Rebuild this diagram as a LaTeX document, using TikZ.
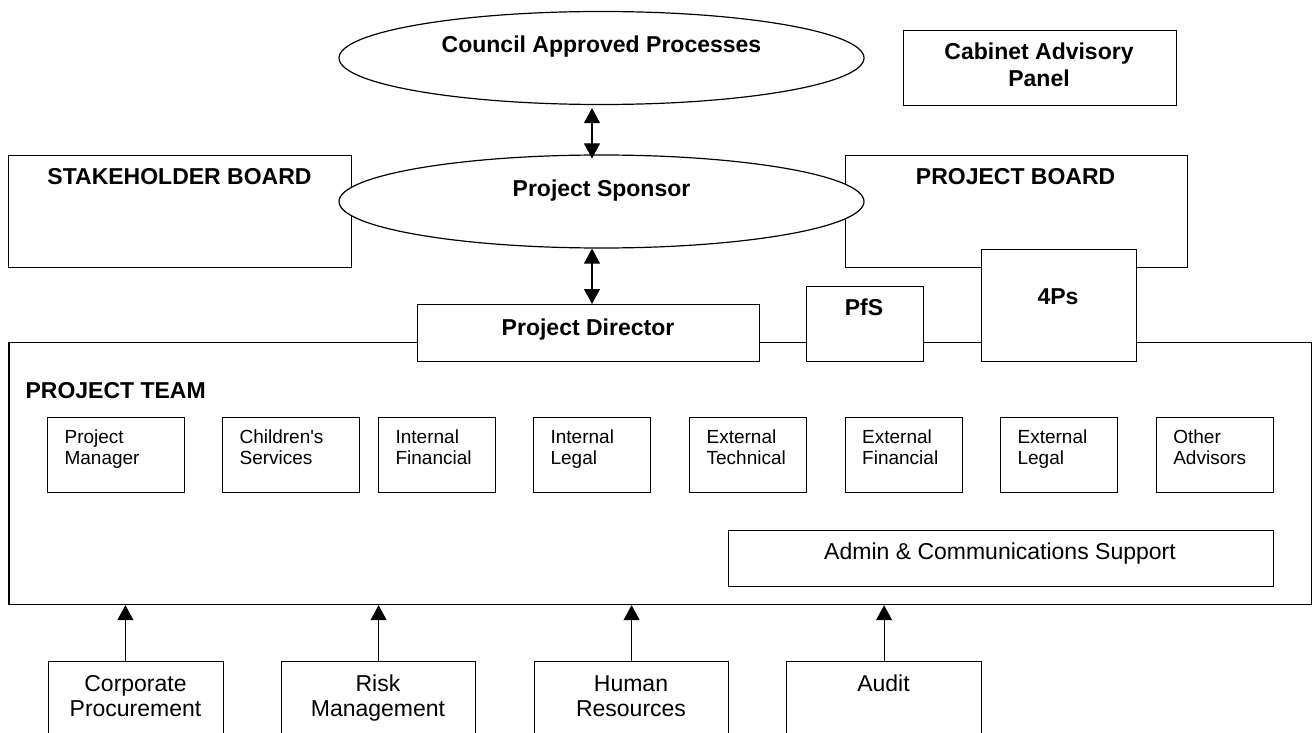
\documentclass[tikz,border=0pt]{standalone}
\usepackage{fontspec}
\setmainfont{Liberation Sans}
\usetikzlibrary{shapes.geometric,arrows.meta}
\tikzset{>={Triangle[length=15pt,width=16pt]}}

\begin{document}
\begin{tikzpicture}[x=1pt, y=-1pt, line width=1.2pt,
  box/.style={draw, fill=white, inner sep=0pt, anchor=north west},
  oval/.style={draw, fill=white, ellipse, inner sep=0pt,
    minimum width=525pt, minimum height=93pt},
  hd/.style={font=\fontsize{23}{27}\selectfont\bfseries, inner sep=0pt, anchor=base, align=center},
  txt/.style={font=\fontsize{23}{25}\selectfont, inner sep=0pt, anchor=base, align=center},
  sm/.style={font=\fontsize{19}{21}\selectfont, inner sep=0pt, anchor=base west, align=left}]
\clip (0,0) rectangle (1312,733);

% top level
\node[oval] (cap) at (601.5,58) {};
\node[hd] (cap-t) at (601.5,53) {Council Approved Processes};
\node[box, minimum width=272.5pt, minimum height=75pt] (cab) at (903,30) {};
\node[hd] (cab-t) at (1039,87) {Cabinet Advisory\\Panel};

% boards and sponsor
\node[box, minimum width=343pt, minimum height=112pt] (stake) at (8,155) {};
\node[hd] (stake-t) at (179.5,185) {STAKEHOLDER BOARD};
\node[box, minimum width=342.4pt, minimum height=112pt] (board) at (844.6,155) {};
\node[hd] (board-t) at (1015.6,185) {PROJECT BOARD};
\node[oval] (sponsor) at (601.5,201.5) {};
\node[hd] (sponsor-t) at (601.5,196.5) {Project Sponsor};

% project team
\node[box, fill=none, minimum width=1302.2pt, minimum height=262pt] (team) at (8.4,342) {};
\node[hd, anchor=base west] (team-t) at (25,398) {PROJECT TEAM};
\node[box, minimum width=342.3pt, minimum height=57pt] (dir) at (416.7,304) {};
\node[hd] (dir-t) at (588,335) {Project Director};
\node[box, minimum width=117pt, minimum height=75pt] (pfs) at (805.8,286) {};
\node[hd] (pfs-t) at (864,315.5) {PfS};
\node[box, minimum width=155.5pt, minimum height=112.3pt] (fourps) at (980.5,248.7) {};
\node[hd] (fourps-t) at (1058,304) {4Ps};

\foreach \nm/\xa/\bw/\txt in {pm/47/137/{Project\\Manager},
    cs/222/137/{Children\textquotesingle s\\Services}, ifin/378/117/{Internal\\Financial},
    ileg/533/117/{Internal\\Legal}, etec/689/117/{External\\Technical},
    efin/844.6/117/{External\\Financial}, eleg/1000/117/{External\\Legal},
    oth/1155.7/117/{Other\\Advisors}} {
  \node[box, minimum width=\bw pt, minimum height=75pt] (\nm) at (\xa,417) {};
  \node[sm] (\nm-t) at (\xa+17,464) {\txt};
}
\node[box, minimum width=544.6pt, minimum height=56pt] (adm) at (728,530) {};
\node[txt] (adm-t) at (1000,559) {Admin \& Communications Support};

% support services
\foreach \nm/\xa/\bw/\xt/\yb/\txt in {corp/48/174.6/135.5/716.5/{Corporate\\Procurement},
    risk/281/194/378/716.5/{Risk\\Management}, hr/534/194/631/716.5/{Human\\Resources},
    aud/786/195/883.5/691.5/{Audit}} {
  \node[box, minimum width=\bw pt, minimum height=100pt] (\nm) at (\xa,661) {};
  \node[txt] (\nm-t) at (\xt,\yb) {\txt};
}

% connectors
\draw[<->] ([xshift=-9.5pt,yshift=-3pt]cap.south) -- ([xshift=-9.5pt,yshift=-4pt]sponsor.north);
\draw[<->] ([xshift=-9.5pt]sponsor.south) -- ([xshift=-9.5pt]sponsor.south |- dir.north);
\draw[->] ([xshift=-10.5pt]corp.north) -- ([xshift=-10.5pt]corp.north |- team.south);
\foreach \nm in {risk,hr,aud}
  \draw[->] (\nm.north) -- (\nm.north |- team.south);
\end{tikzpicture}
\end{document}
